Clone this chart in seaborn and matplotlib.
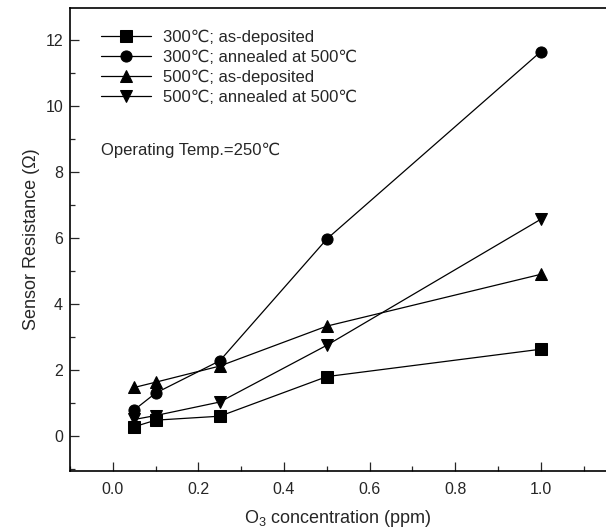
import matplotlib
matplotlib.use("Agg")
import matplotlib.pyplot as plt
import seaborn as sns
import pandas as pd
from matplotlib.ticker import MultipleLocator

conc = [0.05, 0.1, 0.25, 0.5, 1.0]
s300_asdep = [0.28, 0.48, 0.60, 1.80, 2.63]
s300_ann = [0.79, 1.30, 2.28, 5.97, 11.65]
s500_asdep = [1.47, 1.63, 2.12, 3.33, 4.90]
s500_ann = [0.50, 0.62, 1.03, 2.75, 6.57]
labels = ["300℃; as-deposited", "300℃; annealed at 500℃",
          "500℃; as-deposited", "500℃; annealed at 500℃"]
series = [s300_asdep, s300_ann, s500_asdep, s500_ann]
marker_list = ["s", "o", "^", "v"]

rows = []
for lab, vals in zip(labels, series):
    for c, v in zip(conc, vals):
        rows.append({"conc": c, "res": v, "series": lab})
df = pd.DataFrame(rows)

sns.set_style("ticks")
plt.rcParams["font.family"] = ["Liberation Sans", "DejaVu Sans"]
plt.rcParams["mathtext.fontset"] = "custom"
plt.rcParams["mathtext.rm"] = "Liberation Sans"

fig = plt.figure(figsize=(6.06, 5.32), dpi=100)
ax = fig.add_axes([0.1155, 0.1147, 0.8845, 0.8703])

sns.lineplot(data=df, x="conc", y="res", hue="series", style="series",
             hue_order=labels, style_order=labels,
             palette=["black"] * 4, markers=dict(zip(labels, marker_list)),
             dashes=False, markersize=8, linewidth=0.9,
             markeredgecolor="black", ax=ax, legend=True)

ax.set_xlim(-0.1, 1.152)
ax.set_ylim(-1.06, 12.97)
ax.xaxis.set_major_locator(MultipleLocator(0.2))
ax.xaxis.set_minor_locator(MultipleLocator(0.1))
ax.yaxis.set_major_locator(MultipleLocator(2))
ax.yaxis.set_minor_locator(MultipleLocator(1))
ax.set_xticks([0.0, 0.2, 0.4, 0.6, 0.8, 1.0])
ax.set_xticklabels(["0.0", "0.2", "0.4", "0.6", "0.8", "1.0"])
ax.set_yticks([0, 2, 4, 6, 8, 10, 12])
ax.tick_params(which="major", direction="in", length=6.5, width=0.9, labelsize=11.5)
ax.tick_params(axis="x", which="major", pad=8)
ax.tick_params(axis="y", which="major", pad=5)
ax.tick_params(which="minor", direction="in", length=3.5, width=0.9)
ax.spines["right"].set_visible(False)
for s in ["left", "bottom", "top"]:
    ax.spines[s].set_linewidth(1.2)
    ax.spines[s].set_color("black")

ax.set_xlabel(r"$\mathregular{O_3}$ concentration (ppm)", fontsize=13, labelpad=8)
ax.set_ylabel("Sensor Resistance (Ω)", fontsize=13, labelpad=4)

leg = ax.legend(loc="upper left", bbox_to_anchor=(0.03, 0.985), frameon=False,
                fontsize=12, handlelength=3.0, handletextpad=0.7, labelspacing=0.28)
for h in leg.legend_handles:
    h.set_markersize(8)

ax.text(0.058, 0.693, "Operating Temp.=250℃", transform=ax.transAxes, fontsize=12,
        va="center", ha="left")

fig.savefig("out.png", dpi=100)
